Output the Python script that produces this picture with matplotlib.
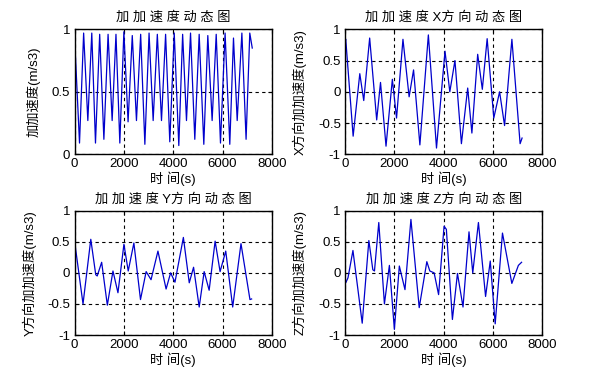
import matplotlib
matplotlib.use("Agg")
import matplotlib.pyplot as plt
import numpy as np

plt.rcParams['font.family'] = ['Liberation Sans', 'Noto Sans CJK SC', 'DejaVu Sans']
plt.rcParams['axes.unicode_minus'] = False

# --- data (time in s, value in m/s3) ---
t_total = [0, 203, 370, 540, 700, 850, 1020, 1190, 1360, 1525, 1680, 1836, 2000,
           2170, 2340, 2510, 2680, 2850, 3020, 3186, 3355, 3524, 3690, 3860, 4040,
           4225, 4380, 4536, 4700, 4873, 5050, 5238, 5400, 5575, 5740, 5913, 6100,
           6290, 6440, 6590, 6780, 6950, 7100, 7200]
a_total = [0.95, 0.09, 0.97, 0.27, 0.97, 0.09, 0.96, 0.12, 0.96, 0.27, 0.96, 0.09, 0.98,
           0.26, 0.95, 0.27, 0.96, 0.08, 0.97, 0.27, 0.96, 0.27, 0.96, 0.10, 0.97,
           0.07, 0.96, 0.27, 0.97, 0.12, 0.96, 0.08, 0.95, 0.27, 0.96, 0.09, 0.97,
           0.08, 0.93, 0.27, 0.97, 0.12, 0.97, 0.85]

t_x = [0, 30, 330, 600, 760, 1000, 1285, 1440, 1663, 1920, 2090, 2350, 2600, 2780,
       3036, 3380, 3710, 4055, 4250, 4458, 4720, 4975, 5145, 5380, 5568, 5764, 6033,
       6268, 6470, 6767, 7100, 7180]
a_x = [0.80, 0.84, -0.71, 0.29, -0.14, 0.86, -0.45, 0.15, -0.87, 0.20, -0.42, 0.84,
       -0.08, 0.35, -0.85, 0.91, -0.90, 0.65, 0.00, 0.50, -0.83, 0.06, -0.66, 0.60,
       0.04, 0.85, -0.42, 0.00, -0.54, 0.84, -0.83, -0.74]

t_y = [0, 30, 345, 660, 860, 920, 1100, 1330, 1558, 1760, 2002, 2176, 2405, 2673,
       2902, 3100, 3380, 3710, 3893, 4070, 4410, 4648, 4823, 5051, 5252, 5454, 5696,
       5897, 6126, 6408, 6744, 7107, 7174]
a_y = [0.40, 0.43, -0.50, 0.54, -0.03, -0.05, 0.17, -0.52, 0.03, -0.32, 0.46, 0.03,
       0.48, -0.43, 0.02, -0.11, 0.35, -0.26, 0.00, -0.15, 0.57, -0.16, 0.09, -0.55,
       0.02, -0.28, 0.51, 0.02, 0.35, -0.55, 0.47, -0.43, -0.42]

t_z = [0, 30, 121, 322, 698, 967, 1128, 1195, 1370, 1598, 1800, 2002, 2203, 2432,
       2673, 3009, 3318, 3439, 3614, 3795, 4017, 4110, 4355, 4560, 4785, 5028, 5180,
       5410, 5700, 5890, 6090, 6385, 6765, 7030, 7160]
a_z = [-0.16, -0.16, -0.08, 0.36, -0.81, 0.52, 0.05, 0.03, 0.81, -0.50, 0.12, -0.91,
       0.11, -0.27, 0.86, -0.56, 0.18, 0.03, 0.00, -0.35, 0.75, 0.70, -0.75, -0.01,
       -0.55, 0.66, 0.00, 0.81, -0.38, 0.19, -0.82, 0.64, -0.17, 0.12, 0.17]

titles = ['加加速度动态图', '加加速度X方向动态图', '加加速度Y方向动态图', '加加速度Z方向动态图']
ylabels = ['加加速度(m/s3)', 'X方向加加速度(m/s3)', 'Y方向加加速度(m/s3)', 'Z方向加加速度(m/s3)']
xlabel = '时间(s)'
xticks = [0, 2000, 4000, 6000, 8000]
yticks_total = [0, 0.5, 1]
yticklabels_total = ['0', '0.5', '1']
yticks_dir = [-1, -0.5, 0, 0.5, 1]
yticklabels_dir = ['-1', '-0.5', '0', '0.5', '1']

series = [(t_total, a_total), (t_x, a_x), (t_y, a_y), (t_z, a_z)]


def spaced(s):
    # the old renderer puts a gap after every CJK character
    out = ''
    for ch in s:
        out += ch
        if ord(ch) > 0x2e80:
            out += ' '
    return out.rstrip()


fig = plt.figure(figsize=(5.93, 3.81), dpi=100)
W, H = 593.0, 381.0
# axes boxes in pixels: left, top, right, bottom
boxes = [(74.5, 29.3, 272, 154.3), (345, 29.3, 542.3, 154.3),
         (74.5, 210.7, 272, 335), (345, 210.7, 542.3, 335)]

for i, (t, a) in enumerate(series):
    l, tp, r, b = boxes[i]
    ax = fig.add_axes([l / W, 1 - b / H, (r - l) / W, (b - tp) / H])
    ax.plot(t, a, color='#0000cc', lw=0.9)
    ax.set_xlim(0, 8000)
    ax.set_xticks(xticks)
    ax.set_xticklabels([str(v) for v in xticks])
    if i == 0:
        ax.set_ylim(0, 1)
        ax.set_yticks(yticks_total)
        ax.set_yticklabels(yticklabels_total)
    else:
        ax.set_ylim(-1, 1)
        ax.set_yticks(yticks_dir)
        ax.set_yticklabels(yticklabels_dir)
    ax.grid(True, color='black', linestyle=(0, (3, 3)), linewidth=0.8)
    ax.tick_params(direction='in', length=3, top=True, right=True,
                   labelsize=9.5, pad=3, width=0.8)
    for s in ax.spines.values():
        s.set_linewidth(1.0)
    ax.set_title(spaced(titles[i]), fontsize=9.5, pad=6)
    ax.set_ylabel(ylabels[i], fontsize=9.5, labelpad=8)
    ax.set_xlabel(spaced(xlabel).replace(' (', '('), fontsize=9.5, labelpad=1)

fig.savefig('out.png', dpi=100)
